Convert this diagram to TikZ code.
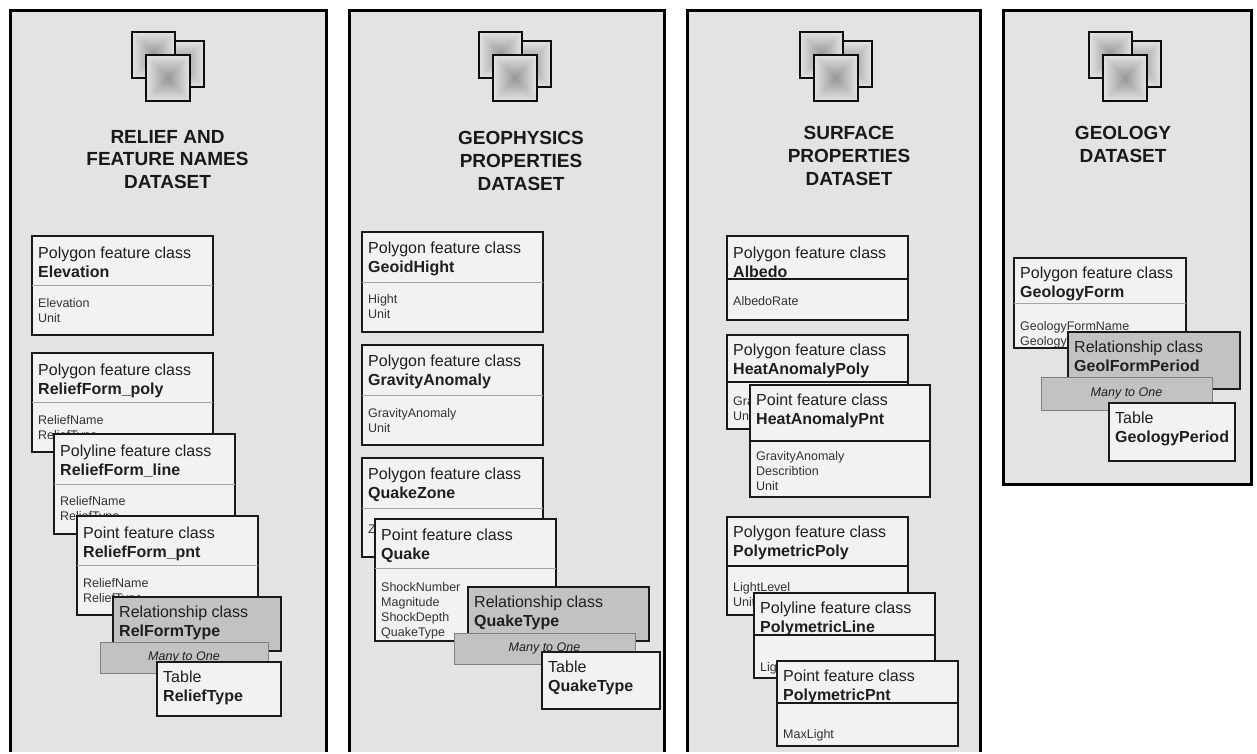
\documentclass[tikz,border=0pt]{standalone}
\usepackage{fontspec}
\setmainfont{Liberation Sans}
\usetikzlibrary{fit}
\definecolor{panelfill}{gray}{0.89}
\definecolor{boxfill}{gray}{0.95}
\definecolor{relfill}{gray}{0.76}
\definecolor{inktext}{gray}{0.12}
\definecolor{attrink}{gray}{0.2}
\tikzset{
  paneltile/.style={fit={#1},inner sep=0pt,outer sep=0pt,fill=panelfill,draw=none},
  panelline/.style={line width=3pt,line join=miter,draw=black},
  classbox/.style={fit={#1},inner sep=0pt,outer sep=0pt,fill=boxfill,draw=black!90,line width=1.8pt},
  relbox/.style={fit={#1},inner sep=0pt,outer sep=0pt,fill=relfill,draw=black!90,line width=1.8pt},
  manybox/.style={fit={#1},inner sep=0pt,outer sep=0pt,fill=relfill,draw=black!50,line width=0.9pt,
     font=\fontsize{12.5}{15}\selectfont\itshape,text=inktext},
  headtext/.style={anchor=north west,inner sep=0pt,align=left,text=inktext,
     font=\fontsize{16}{19}\selectfont},
  attrtext/.style={anchor=north west,inner sep=0pt,align=left,text=attrink,
     font=\fontsize{12.5}{15}\selectfont},
  titletext/.style={inner sep=0pt,align=center,text=black!90,
     font=\fontsize{19}{22.7}\selectfont\bfseries},
  thindiv/.style={draw=black!35,line width=0.9pt},
  darkdiv/.style={draw=black!90,line width=1.3pt},
}
\def\hs{10.3}
% id, corner, corner, divider y, divider style, head, bold, first attr centre y, attrs
\def\clsbox#1(#2)(#3)#4#5#6#7#8#9{%
  \node[classbox={(#2)(#3)}] (#1) {};
  \draw[#5] (#1.west |- 0,#4) -- (#1.east |- 0,#4);
  \node[headtext] (#1head) at ([shift={(6,\hs)}]#1.north west) {\rule{0pt}{11.5pt}#6\\\textbf{#7}};
  \path (#1.west |- 0,#8) ++(6,-4.5) coordinate (#1at);
  \node[attrtext] (#1attr) at (#1at) {\rule{0pt}{9pt}#9};
}
\def\headonly#1#2#3#4#5#6{%
  \node[#1={(#2)(#3)}] (#4) {};
  \node[headtext] (#4head) at ([shift={(6,8.3)}]#4.north west) {\rule{0pt}{11.5pt}#5\\\textbf{#6}};
}
\def\pyr#1#2#3#4{% x1 y1 x2 y2 : pyramid shaded square
  \foreach \i in {0,...,43}{
    \pgfmathsetmacro\pc{11+29*\i/43}
    \pgfmathsetmacro\ins{\i*0.5}
    \fill[black!\pc] (#1+\ins,#2+\ins) rectangle (#3-\ins,#4-\ins);
  }
  \draw[black!95,line width=1.5pt] (#1,#2) rectangle (#3,#4);
}
\def\iconset#1{%
  \begin{scope}[shift={(#1,0)}]
    \pyr{160}{41}{204}{87}
    \pyr{132}{32}{175}{78}
    \pyr{146}{55}{190}{101}
  \end{scope}
}
\begin{document}
\begin{tikzpicture}[x=1pt,y=-1pt]
\useasboundingbox (0,0) rectangle (1257,753);
\fill[white] (0,0) rectangle (1257,753);

% ---------- panel frames
\node[paneltile={(10,10)(326,752)}] (p1) {};
\draw[panelline] (p1.south west) -- (p1.north west) -- (p1.north east) -- (p1.south east);
\node[paneltile={(349,10)(664,752)}] (p2) {};
\draw[panelline] (p2.south west) -- (p2.north west) -- (p2.north east) -- (p2.south east);
\node[paneltile={(687,10)(980,752)}] (p3) {};
\draw[panelline] (p3.south west) -- (p3.north west) -- (p3.north east) -- (p3.south east);
\node[paneltile={(1003,10)(1251,484)}] (p4) {};
\draw[panelline] (p4.south west) -- (p4.north west) -- (p4.north east) -- (p4.south east) -- cycle;

% ---------- icons
\iconset{0}
\iconset{347}
\iconset{668}
\iconset{957}

% ---------- titles
\node[titletext] (t1) at (167.5,159.5) {RELIEF AND\\FEATURE NAMES\\DATASET};
\node[titletext] (t2) at (521,161) {GEOPHYSICS\\PROPERTIES\\DATASET};
\node[titletext] (t3) at (849,156) {SURFACE\\PROPERTIES\\DATASET};
\node[titletext] (t4) at (1123,144.5) {GEOLOGY\\DATASET};

% ---------- panel 1
\clsbox{elev}(32,236)(213,335){285}{thindiv}{Polygon feature class}{Elevation}{303}{Elevation\\Unit}
\clsbox{rfpoly}(32,353)(213,452){402}{thindiv}{Polygon feature class}{ReliefForm\_poly}{420}{ReliefName\\ReliefType}
\clsbox{rfline}(54,434)(235,534){484}{thindiv}{Polyline feature class}{ReliefForm\_line}{501}{ReliefName\\ReliefType}
\clsbox{rfpnt}(77,516)(258,615){565}{thindiv}{Point feature class}{ReliefForm\_pnt}{583}{ReliefName\\ReliefType}
\headonly{relbox}{113,597}{281,651}{rel1}{Relationship class}{RelFormType}
\node[manybox={(100,642)(268,673)}] (many1) {\raisebox{-9.5pt}{Many to One}};
\headonly{classbox}{157,662}{281,716}{tab1}{Table}{ReliefType}

% ---------- panel 2
\def\hs{9.5}
\clsbox{geoid}(362,232)(543,332){282}{thindiv}{Polygon feature class}{GeoidHight}{299}{Hight\\Unit}
\clsbox{grav}(362,345)(543,445){395}{thindiv}{Polygon feature class}{GravityAnomaly}{413}{GravityAnomaly\\Unit}
\clsbox{qzone}(362,458)(543,557){508}{thindiv}{Polygon feature class}{QuakeZone}{529}{Z}
\clsbox{quake}(375,519)(556,641){568}{thindiv}{Point feature class}{Quake}{587}{ShockNumber\\Magnitude\\ShockDepth\\QuakeType}
\headonly{relbox}{468,587}{649,641}{rel2}{Relationship class}{QuakeType}
\node[manybox={(454,633)(635,664)}] (many2) {\raisebox{-9.5pt}{Many to One}};
\headonly{classbox}{542,652}{660,709}{tab2}{Table}{QuakeType}

% ---------- panel 3
\def\hs{10.3}
\clsbox{albedo}(727,236)(908,320){279}{darkdiv}{Polygon feature class}{Albedo}{301}{AlbedoRate}
\def\hs{8.6}
\clsbox{hpoly}(727,335)(908,429){382}{darkdiv}{Polygon feature class}{HeatAnomalyPoly}{401}{GravityAnomaly\\Unit}
\clsbox{hpnt}(750,385)(930,497){441}{darkdiv}{Point feature class}{HeatAnomalyPnt}{456}{GravityAnomaly\\Describtion\\Unit}
\clsbox{ppoly}(727,517)(908,615){566}{darkdiv}{Polygon feature class}{PolymetricPoly}{587}{LightLevel\\Unit}
\clsbox{pline}(754,593)(935,678){635}{darkdiv}{Polyline feature class}{PolymetricLine}{667}{LightLevel}
\clsbox{ppnt}(777,661)(958,746){703}{darkdiv}{Point feature class}{PolymetricPnt}{734}{MaxLight}

% ---------- panel 4
\clsbox{gform}(1014,258)(1186,348){303}{thindiv}{Polygon feature class}{GeologyForm}{326}{GeologyFormName\\Geology}
\headonly{relbox}{1068,332}{1240,389}{rel4}{Relationship class}{GeolFormPeriod}
\node[manybox={(1041,377)(1212,410)}] (many4) {\raisebox{-8pt}{Many to One}};
\headonly{classbox}{1109,403}{1235,461}{tab4}{Table}{GeologyPeriod}
\end{tikzpicture}
\end{document}
